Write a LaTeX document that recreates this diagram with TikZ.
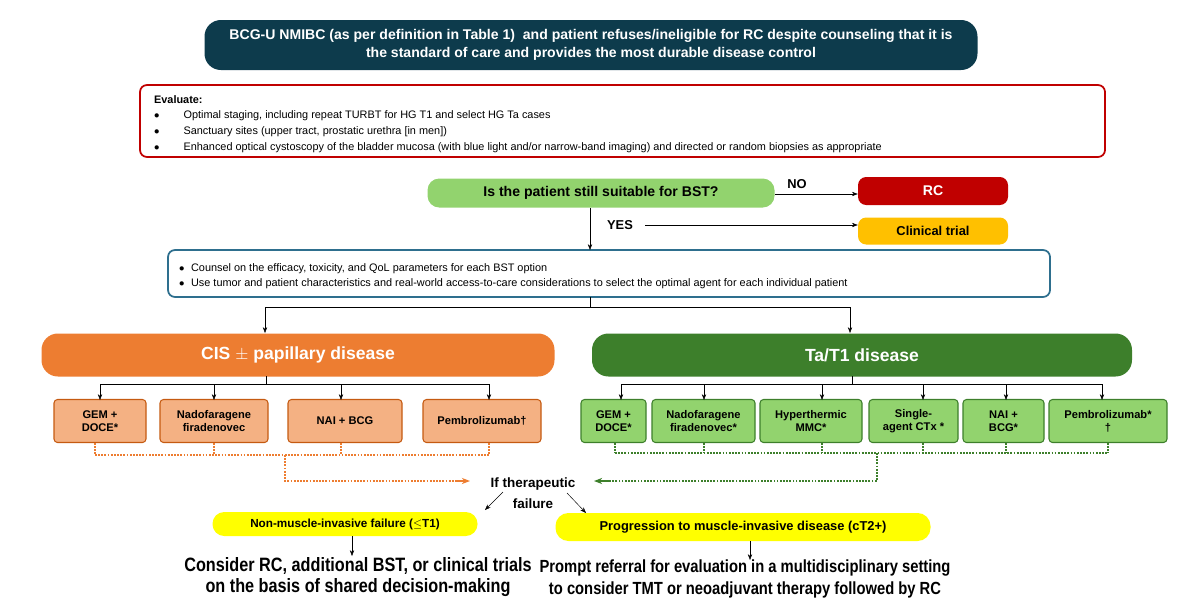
\documentclass[tikz,border=0pt]{standalone}
\usepackage{fontspec}
\setmainfont{Liberation Sans}
\newfontfamily\narrowf{Liberation Sans}[FakeStretch=0.84]
\usetikzlibrary{arrows.meta}
\definecolor{navy}{HTML}{0D3B4C}
\definecolor{redb}{HTML}{C00000}
\definecolor{lgreen}{HTML}{92D36E}
\definecolor{ambr}{HTML}{FFC000}
\definecolor{blueb}{HTML}{2E6F8E}
\definecolor{orng}{HTML}{ED7D31}
\definecolor{lorng}{HTML}{F4B183}
\definecolor{dgreen}{HTML}{3D7F2B}
\definecolor{ogb}{HTML}{C55A11}
\definecolor{ylw}{HTML}{FFFF00}
\begin{document}
\begin{tikzpicture}[x=0.03cm,y=-0.03cm,
 arr/.style={-{Stealth[length=5pt]},thin},
 obox/.style={draw=ogb,fill=lorng,rounded corners=3pt,line width=0.9pt,align=center,font=\bfseries\fontsize{9.5}{11}\selectfont},
 gbox/.style={draw=dgreen,fill=lgreen,rounded corners=3pt,line width=0.9pt,align=center,font=\bfseries\fontsize{9.5}{11}\selectfont},
 odot/.style={orng,dash pattern=on 1.5pt off 1.2pt,line width=2pt},
 gdot/.style={dgreen,dash pattern=on 1.5pt off 1.2pt,line width=2pt}]
\useasboundingbox (0,0) rectangle (1200,611);
\node[fill=navy,rounded corners=14pt,minimum width=773*0.03cm,minimum height=50*0.03cm,text=white,align=center,font=\bfseries\fontsize{12}{15}\selectfont] (top) at (591,45) {BCG-U NMIBC (as per definition in Table 1)\ \ and patient refuses/ineligible for RC despite counseling that it is\\the standard of care and provides the most durable disease control};
\draw[redb,line width=1.5pt,rounded corners=6pt] (140,85) rectangle (1105,157);
\node[anchor=north west,align=left,font=\fontsize{9.3}{13.5}\selectfont] (ev) at (150,91) {\textbf{Evaluate:}\\
$\bullet$\hspace{2.2em}Optimal staging, including repeat TURBT for HG T1 and select HG Ta cases\\
$\bullet$\hspace{2.2em}Sanctuary sites (upper tract, prostatic urethra [in men])\\
$\bullet$\hspace{2.2em}Enhanced optical cystoscopy of the bladder mucosa (with blue light and/or narrow-band imaging) and directed or random biopsies as appropriate};
\node[fill=lgreen,rounded corners=10pt,minimum width=347*0.03cm,minimum height=29*0.03cm,font=\bfseries\fontsize{12}{14}\selectfont] (q) at (601,193) {Is the patient still suitable for BST?};
\node[fill=redb,rounded corners=7pt,minimum width=150*0.03cm,minimum height=28*0.03cm,text=white,font=\bfseries\fontsize{12}{14}\selectfont] (rc) at (933,191) {RC};
\node[fill=ambr,rounded corners=7pt,minimum width=150*0.03cm,minimum height=27*0.03cm,font=\bfseries\fontsize{11}{13}\selectfont] (ct) at (933,231) {Clinical trial};
\coordinate (ns) at (775,194);
\draw[arr] (ns) -- (rc.west|-ns);
\node[font=\bfseries\fontsize{11}{13}\selectfont] (no) at (797,184) {NO};
\node[font=\bfseries\fontsize{11}{13}\selectfont] (yes) at (620,225) {YES};
\coordinate (ys) at (645,225);
\draw[arr] (ys) -- (ct.west|-ys);
\draw[blueb,line width=1.5pt,rounded corners=6pt] (168,250) rectangle (1050,297);
\node[anchor=north west,align=left,font=\fontsize{9.3}{13.5}\selectfont] (cn) at (175,259) {$\bullet$\hspace{0.6em}Counsel on the efficacy, toxicity, and QoL parameters for each BST option\\
$\bullet$\hspace{0.6em}Use tumor and patient characteristics and real-world access-to-care considerations to select the optimal agent for each individual patient};
\coordinate (cntop) at (590,250);
\draw[arr] (q.south-|cntop) -- (cntop);
\node[fill=orng,rounded corners=14pt,minimum width=513*0.03cm,minimum height=43*0.03cm,text=white,font=\bfseries\fontsize{15}{18}\selectfont] (cis) at (298,355) {CIS $\pm$ papillary disease};
\node[fill=dgreen,rounded corners=14pt,minimum width=540*0.03cm,minimum height=43*0.03cm,text=white,font=\bfseries\fontsize{15}{18}\selectfont] (ta) at (862,355) {Ta/T1 disease};
\coordinate (cb) at (590,297);
\draw (cb) -- (590,307) -- (265,307);
\draw (590,307) -- (850,307);
\draw[arr] (265,307) -- (265,333);
\draw[arr] (850,307) -- (850,333);
\foreach \n/\a/\b/\t in {o1/54/146/{GEM +\\DOCE*},o2/160/268/{Nadofaragene\\firadenovec},o3/288/402/{NAI + BCG},o4/423/541/{Pembrolizumab\textdagger}}{
 \node[obox,minimum width={(\b-\a)*0.03cm},minimum height=43*0.03cm] (\n) at ({(\a+\b)/2},421) {\t};}
\draw (266,376) -- (266,384);
\draw (100,384) -- (489,384);
\foreach \x in {100,214,341,489}{\draw[arr] (\x,384) -- (\x,400);}
\foreach \n/\a/\b/\t in {g1/581/646/{GEM +\\DOCE*},g2/652/755/{Nadofaragene\\firadenovec*},g3/760/862/{Hyperthermic\\MMC*},g4/869/958/{Single-\\agent CTx *},g5/963/1044/{NAI +\\BCG*},g6/1049/1167/{Pembrolizumab*\\\textdagger}}{
 \node[gbox,minimum width={(\b-\a)*0.03cm},minimum height=43*0.03cm] (\n) at ({(\a+\b)/2},421) {\t};}
\draw (852,376) -- (852,384);
\draw (621,384) -- (1102,384);
\foreach \x in {621,704,822,923,1006,1102}{\draw[arr] (\x,384) -- (\x,400);}
\foreach \x in {95,214,341,489}{\draw[odot] (\x,443) -- (\x,455);}
\draw[odot] (95,455) -- (489,455);
\node[font=\bfseries\fontsize{11.5}{14}\selectfont,align=center] (if) at (533,493) {If therapeutic\\[4pt]failure};
\draw[odot] (285,455) -- (285,481) -- (455,481);
\draw[orng,-{Stealth[length=7pt]},line width=1pt] (455,481) -- (470,481);
\foreach \x in {615,704,822,923,1006,1108}{\draw[gdot] (\x,443) -- (\x,453);}
\draw[gdot] (615,453) -- (1108,453);
\draw[gdot] (877,453) -- (877,481) -- (610,481);
\draw[dgreen,-{Stealth[length=7pt]},line width=1pt] (610,481) -- (594,481);
\node[fill=ylw,rounded corners=10pt,minimum width=265*0.03cm,minimum height=24*0.03cm,font=\bfseries\fontsize{10}{12}\selectfont] (nm) at (345,524) {Non-muscle-invasive failure ($\leq$T1)};
\node[fill=ylw,rounded corners=11pt,minimum width=375*0.03cm,minimum height=28*0.03cm,font=\bfseries\fontsize{11}{13}\selectfont] (pm) at (743,527) {Progression to muscle-invasive disease (cT2+)};
\coordinate (a1) at (503,492); \coordinate (a2) at (485,510);
\coordinate (b1) at (567,493); \coordinate (b2) at (586,513);
\draw[arr] (a1) -- (a2);
\draw[arr] (b1) -- (b2);
\node[font=\narrowf\bfseries\fontsize{16.5}{18.5}\selectfont,align=center] (c1) at (358,577) {Consider RC, additional BST, or clinical trials\\on the basis of shared decision-making};
\node[font=\narrowf\bfseries\fontsize{15}{18.5}\selectfont,align=center] (c2) at (745,579) {Prompt referral for evaluation in a multidisciplinary setting\\to consider TMT or neoadjuvant therapy followed by RC};
\draw[arr] (352,536) -- (352,556);
\draw[arr] (750,541) -- (750,560);
\end{tikzpicture}
\end{document}
